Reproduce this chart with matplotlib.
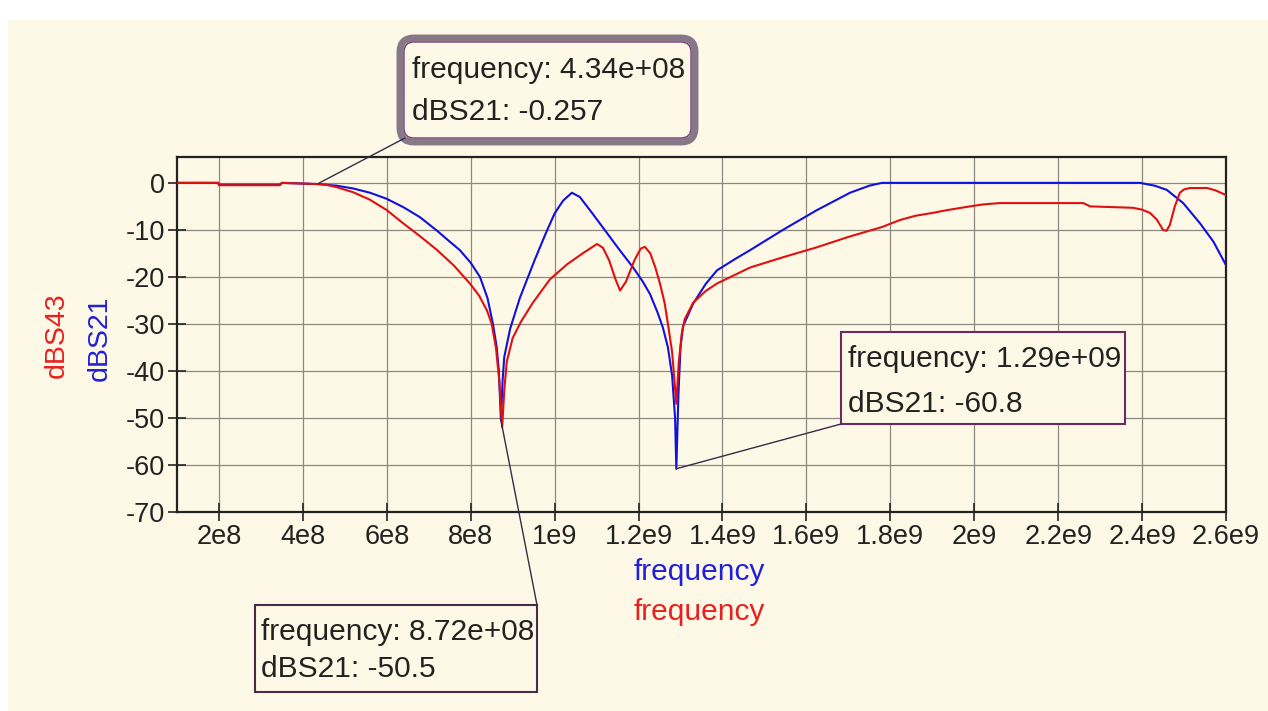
import matplotlib
matplotlib.use('Agg')
import matplotlib.pyplot as plt
from matplotlib.patches import FancyBboxPatch, Rectangle, ConnectionPatch

plt.rcParams['font.family'] = ['Liberation Sans', 'DejaVu Sans']
plt.rcParams['axes.unicode_minus'] = False

# dBS21 (blue) trace
f21 = [1.0e8, 1.98e8, 2.0e8, 3.45e8, 3.5e8, 4.34e8, 4.8e8, 5.2e8, 5.6e8, 6.0e8,
       6.4e8, 6.79e8, 7.2e8, 7.5e8, 7.74e8, 8.0e8, 8.22e8, 8.4e8, 8.53e8, 8.62e8,
       8.67e8, 8.72e8, 8.76e8, 8.8e8, 8.94e8, 9.17e8, 9.52e8, 9.8e8, 1.0e9, 1.02e9,
       1.041e9, 1.06e9, 1.09e9, 1.125e9, 1.155e9, 1.187e9, 1.21e9, 1.227e9, 1.245e9, 1.258e9,
       1.27e9, 1.28e9, 1.287e9, 1.29e9, 1.295e9, 1.3e9, 1.306e9, 1.33e9, 1.36e9, 1.387e9,
       1.43e9, 1.466e9, 1.544e9, 1.625e9, 1.704e9, 1.75e9, 1.78e9, 2.395e9, 2.43e9, 2.459e9,
       2.498e9, 2.538e9, 2.57e9, 2.6e9]
s21 = [0, 0, -0.4, -0.4, 0, -0.26, -0.6, -1.2, -2.1, -3.4,
       -5.2, -7.3, -10.2, -12.5, -14.3, -17.0, -20.0, -24.5, -30.0, -35.0,
       -40.0, -50.5, -42.0, -37.0, -31.0, -24.5, -16.5, -10.5, -6.5, -3.8,
       -2.1, -3.0, -6.5, -10.7, -14.3, -18.0, -21.0, -23.6, -27.5, -30.8,
       -35.0, -41.0, -50.0, -60.8, -45.0, -35.0, -30.5, -25.7, -21.5, -18.6,
       -16.2, -14.3, -10.0, -5.8, -2.1, -0.6, 0, 0, -0.6, -1.5,
       -4.3, -8.6, -12.5, -17.5]

# dBS43 (red) trace
f43 = [1.0e8, 1.98e8, 2.0e8, 3.45e8, 3.5e8, 4.5e8, 4.8e8, 5.2e8, 5.6e8, 6.0e8,
       6.39e8, 6.8e8, 7.2e8, 7.6e8, 7.98e8, 8.2e8, 8.39e8, 8.5e8, 8.6e8, 8.68e8,
       8.75e8, 8.8e8, 8.86e8, 9.0e8, 9.2e8, 9.48e8, 9.89e8, 1.03e9, 1.07e9, 1.101e9,
       1.115e9, 1.13e9, 1.145e9, 1.156e9, 1.17e9, 1.19e9, 1.205e9, 1.215e9, 1.228e9, 1.24e9,
       1.251e9, 1.262e9, 1.27e9, 1.28e9, 1.29e9, 1.296e9, 1.303e9, 1.31e9, 1.33e9, 1.36e9,
       1.387e9, 1.466e9, 1.545e9, 1.625e9, 1.70e9, 1.78e9, 1.823e9, 1.86e9, 1.90e9, 1.935e9,
       1.983e9, 2.02e9, 2.06e9, 2.26e9, 2.276e9, 2.378e9, 2.40e9, 2.419e9, 2.435e9, 2.45e9,
       2.458e9, 2.466e9, 2.478e9, 2.49e9, 2.5e9, 2.514e9, 2.555e9, 2.575e9, 2.6e9]
s43 = [0, 0, -0.5, -0.5, 0, -0.3, -0.9, -2.0, -3.6, -5.8,
       -8.6, -11.4, -14.3, -17.6, -21.4, -24.0, -27.2, -30.0, -35.0, -42.0,
       -52.0, -44.0, -38.0, -33.0, -29.5, -25.5, -20.5, -17.3, -14.8, -13.0,
       -13.8, -16.5, -20.5, -22.9, -21.0, -16.5, -14.0, -13.6, -15.0, -18.0,
       -21.4, -25.5, -30.0, -36.0, -47.0, -38.0, -32.0, -29.0, -25.5, -23.0,
       -21.4, -18.0, -15.8, -13.7, -11.5, -9.4, -7.9, -7.0, -6.4, -5.8,
       -5.1, -4.6, -4.3, -4.3, -5.0, -5.3, -5.7, -6.4, -7.8, -10.0,
       -10.2, -9.0, -5.0, -2.1, -1.4, -1.1, -1.1, -1.6, -2.6]

xticks = [2e8, 4e8, 6e8, 8e8, 1e9, 1.2e9, 1.4e9, 1.6e9, 1.8e9, 2e9, 2.2e9, 2.4e9, 2.6e9]
xticklabels = ['2e8', '4e8', '6e8', '8e8', '1e9', '1.2e9', '1.4e9', '1.6e9', '1.8e9',
               '2e9', '2.2e9', '2.4e9', '2.6e9']
yticks = [0, -10, -20, -30, -40, -50, -60, -70]

# markers: (frequency, dBS21, label lines)
markers = [
    (4.34e8, -0.257, 'frequency: 4.34e+08', 'dBS21: -0.257'),
    (1.29e9, -60.8, 'frequency: 1.29e+09', 'dBS21: -60.8'),
    (8.72e8, -50.5, 'frequency: 8.72e+08', 'dBS21: -50.5'),
]

cream = '#fef9e6'
W, H = 1268, 711
fig = plt.figure(figsize=(12.68, 7.11), dpi=100, facecolor='white')
fig.patches.append(Rectangle((8, 0), W - 8, H - 20, transform=None,
                             facecolor=cream, edgecolor='none', zorder=-10))

ax = fig.add_axes([177 / W, (H - 512) / H, (1226 - 177) / W, (512 - 157) / H])
ax.set_facecolor(cream)

ax.plot(f21, s21, color='#1010e0', lw=1.5, zorder=3)
ax.plot(f43, s43, color='#e01010', lw=1.5, zorder=4)

ax.set_xlim(1e8, 2.6e9)
ax.set_ylim(-70, 5.5)
ax.set_xticks(xticks)
ax.set_xticklabels(xticklabels)
ax.set_yticks(yticks)
ax.tick_params(direction='inout', length=13, width=1.2, labelsize=19.5, pad=2,
               colors='#222222')
ax.grid(True, color='#8a8a7e', lw=0.9)
for sp in ax.spines.values():
    sp.set_linewidth(1.6)
    sp.set_color('#222222')

# y labels
fig.text(57 / W, 1 - 335 / H, 'dBS43', color='#e82020', fontsize=20.5,
         rotation=90, ha='center', va='center')
fig.text(100 / W, 1 - 338 / H, 'dBS21', color='#2020d8', fontsize=20.5,
         rotation=90, ha='center', va='center')
# x labels
fig.text(699 / W, 131 / H, 'frequency', color='#2020d8', fontsize=21.5,
         ha='center', va='baseline')
fig.text(699 / W, 91 / H, 'frequency', color='#e82020', fontsize=21.5,
         ha='center', va='baseline')

# annotation boxes (figure pixels, origin bottom-left)
boxes = [
    dict(rect=(400, 569, 295, 104), corner=(405, 573), text_x=412, base=(633, 591),
         style='round,pad=0,rounding_size=14', ec='#877888', lw=5),
    dict(rect=(841, 287, 284, 92), corner=(841, 287), text_x=848, base=(344, 299),
         style='square,pad=0', ec='#6a2a6a', lw=1.5),
    dict(rect=(255, 19, 282, 87), corner=(537, 106), text_x=261, base=(71, 34),
         style='square,pad=0', ec='#4a2a4a', lw=1.5),
]

for (fx, fy, l1, l2), b in zip(markers, boxes):
    x0, y0, w, h = b['rect']
    fig.patches.append(FancyBboxPatch((x0, y0), w, h, boxstyle=b['style'],
                                      transform=None, facecolor=cream,
                                      edgecolor=b['ec'], lw=b['lw'], zorder=5))
    if b['lw'] > 2:
        # inner purple rim of the highlighted marker
        fig.patches.append(FancyBboxPatch((x0 + 4, y0 + 4), w - 8, h - 8,
                                          boxstyle='round,pad=0,rounding_size=10',
                                          transform=None, facecolor='none',
                                          edgecolor='#7a3a7a', lw=1.0, zorder=5))
    con = ConnectionPatch(xyA=(fx, fy), coordsA=ax.transData,
                          xyB=b['corner'], coordsB='figure pixels',
                          color='#3a2a4a', lw=1.0, zorder=6)
    fig.add_artist(con)
    fig.text(b['text_x'] / W, b['base'][0] / H, l1, fontsize=21.5, color='#222222',
             va='baseline', ha='left', zorder=7)
    fig.text(b['text_x'] / W, b['base'][1] / H, l2, fontsize=21.5, color='#222222',
             va='baseline', ha='left', zorder=7)

fig.savefig('out.png', dpi=100, facecolor=fig.get_facecolor())
